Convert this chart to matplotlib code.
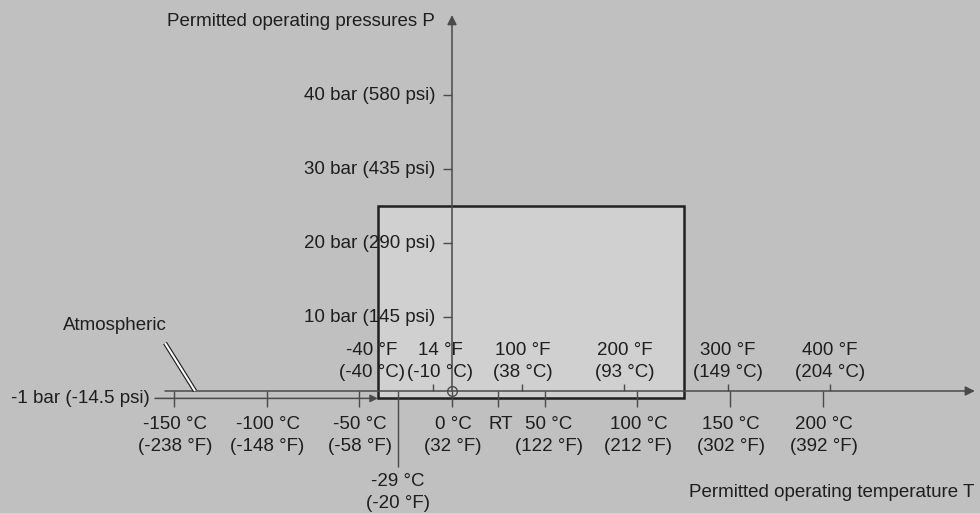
import matplotlib
matplotlib.use("Agg")
import matplotlib.pyplot as plt
from matplotlib.patches import Rectangle
import matplotlib.patheffects as pe

plt.rcParams['font.family'] = ['Liberation Sans', 'DejaVu Sans']

# temperature axis (degC positions) and their degF equivalents
celsius_ticks = [-150, -100, -50, 0, 50, 100, 150, 200]
celsius_in_f = [-238, -148, -58, 32, 122, 212, 302, 392]
# upper scale: degF values and their degC equivalents
fahrenheit_ticks = [-40, 14, 100, 200, 300, 400]
fahrenheit_in_c = [-40, -10, 38, 93, 149, 204]
# pressure axis
pressure_bar = [10, 20, 30, 40]
pressure_psi = [145, 290, 435, 580]

room_temp_c = 25
min_temp_c, min_temp_f = -29, -20
vacuum_bar, vacuum_psi = -1, -14.5

# permitted operating range
range_t = (-40, 125)
range_p = (-1, 25)

BG = '#c0c0c0'
FILL = '#d0d0d0'
TXT = '#1e1e1e'
AX = '#4a4a4a'
FS = 13.5
LS = 1.38

fig = plt.figure(figsize=(9.8, 5.13), dpi=100, facecolor=BG)
ax = fig.add_axes([0, 0, 1, 1])
ax.set_facecolor(BG)
# px = 452 + 1.854*T ; py = 391 - 7.4*P
ax.set_xlim(-452 / 1.854, (980 - 452) / 1.854)
ax.set_ylim(-(513 - 391) / 7.4, 391 / 7.4)
ax.axis('off')

# permitted range box
ax.add_patch(Rectangle((range_t[0], range_p[0]), range_t[1] - range_t[0],
                       range_p[1] - range_p[0], facecolor=FILL,
                       edgecolor='#202020', lw=1.8, zorder=2))

# axes with arrows
ax.annotate('', xy=(282, 0), xytext=(-154.8, 0),
            arrowprops=dict(arrowstyle='-|>', color=AX, lw=1.1,
                            mutation_scale=14, shrinkA=0, shrinkB=0), zorder=3)
ax.annotate('', xy=(0, 50.8), xytext=(0, 0),
            arrowprops=dict(arrowstyle='-|>', color=AX, lw=1.1,
                            mutation_scale=14, shrinkA=0, shrinkB=0), zorder=3)
ax.annotate('', xy=(range_t[0], vacuum_bar), xytext=(-160.2, vacuum_bar),
            arrowprops=dict(arrowstyle='-|>', color=AX, lw=1.1,
                            mutation_scale=11, shrinkA=0, shrinkB=0), zorder=3)
ax.plot([0], [0], 'o', ms=7, mfc='none', mec=AX, mew=1, zorder=4)

# degC ticks below, degF ticks above
ax.vlines(celsius_ticks, -2.16, 0, color=AX, lw=1, zorder=3)
ax.vlines([room_temp_c], -2.16, 0, color=AX, lw=1, zorder=3)
ax.vlines(fahrenheit_in_c[1:], 0, 0.9, color=AX, lw=1, zorder=3)
ax.vlines([min_temp_c], -10.3, 0, color=AX, lw=1, zorder=3)
ax.hlines(pressure_bar, -4.9, 0, color=AX, lw=1, zorder=3)

for c, f in zip(celsius_ticks, celsius_in_f):
    dx = 4 if c == 50 else 1
    ax.annotate(f'{c} °C\n({f} °F)', (c, 0), xytext=(dx, -25),
                textcoords='offset pixels', ha='center', va='top',
                fontsize=FS, color=TXT, linespacing=LS, zorder=5)
ax.annotate('RT', (room_temp_c, 0), xytext=(2, -25),
            textcoords='offset pixels', ha='center', va='top',
            fontsize=FS, color=TXT, zorder=5)
# the two crowded upper labels are nudged apart
nudge = {-40: -6, 14: 7}
for f, c in zip(fahrenheit_ticks, fahrenheit_in_c):
    ax.annotate(f'{f} °F\n({c} °C)', (c, 0), xytext=(nudge.get(f, 0), 10),
                textcoords='offset pixels', ha='center', va='bottom',
                fontsize=FS, color=TXT, linespacing=LS, zorder=5)
ax.annotate(f'{min_temp_c} °C\n({min_temp_f} °F)', (min_temp_c, 0),
            xytext=(0, -82), textcoords='offset pixels', ha='center',
            va='top', fontsize=FS, color=TXT, linespacing=LS, zorder=5)
for b, p in zip(pressure_bar, pressure_psi):
    ax.annotate(f'{b} bar ({p} psi)', (0, b), xytext=(-17, 0),
                textcoords='offset pixels', ha='right', va='center',
                fontsize=FS, color=TXT, zorder=5)
ax.annotate(f'{vacuum_bar} bar ({vacuum_psi} psi)', (-160.2, vacuum_bar),
            xytext=(-5, 0), textcoords='offset pixels', ha='right',
            va='center', fontsize=FS, color=TXT, zorder=5)

# atmospheric leader line and label
ax.plot([-154.8, -138.6], [6.49, 0], color='white', lw=1.5, zorder=4,
        solid_capstyle='butt',
        path_effects=[pe.Stroke(linewidth=3.2, foreground='#202020'), pe.Normal()])
ax.text(-181.8, 8.8, 'Atmospheric', ha='center', va='center',
        fontsize=FS, color=TXT)

ax.text(-9.2, 50, 'Permitted operating pressures P', ha='right',
        va='center', fontsize=FS, color=TXT)
ax.text(282, -13.65, 'Permitted operating temperature T', ha='right',
        va='center', fontsize=FS, color=TXT)

fig.savefig('out.png', dpi=100, facecolor=BG)
